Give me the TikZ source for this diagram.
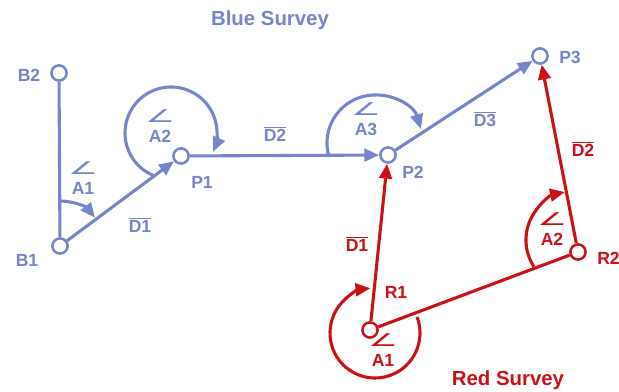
\documentclass[tikz,border=0pt]{standalone}
\usepackage{fontspec}
\setmainfont{Liberation Sans}
\newfontfamily\symfont{DejaVu Sans}
\usetikzlibrary{arrows.meta}
\definecolor{survblue}{RGB}{119,133,204}
\definecolor{survred}{RGB}{204,16,24}
\newcommand{\angl}[1]{\scalebox{1.9}[1.0]{\symfont\mdseries ∠}\\[1pt]#1}
\newcommand{\dist}[1]{$\overline{\mbox{#1}}$}

\begin{document}
\begin{tikzpicture}[x=0.025cm, y=0.025cm,
  stn/.style={circle, draw, fill=white, line width=1.8pt, minimum size=0.38cm, inner sep=0pt},
  leg/.style={line width=2.2pt},
  arr/.style={leg, -{Triangle[length=10.5pt, width=9pt]}},
  lbl/.style={font=\bfseries\fontsize{12.5}{13.5}\selectfont, inner sep=0pt, align=center},
  ttl/.style={font=\bfseries\fontsize{14.5}{16}\selectfont, inner sep=0pt}
]
\useasboundingbox (0,0) rectangle (619,392);

\node[stn, draw=survblue] (B2) at (59,319) {};
\node[stn, draw=survblue] (B1) at (60,146) {};
\node[stn, draw=survblue] (P1) at (181,236) {};
\node[stn, draw=survblue] (P2) at (388,237) {};
\node[stn, draw=survblue] (P3) at (540,336) {};
\node[stn, draw=survred] (R1) at (370,62) {};
\node[stn, draw=survred] (R2) at (578,140) {};

\coordinate (a2) at (171,259);
\coordinate (a3) at (375,249);
\coordinate (ra1) at (375,59);
\coordinate (ra2) at (575,152);

\draw[leg, survblue] (B2) -- (B1);
\draw[arr, survblue] (B1) -- (P1);
\draw[arr, survblue] (P1) -- (P2);
\draw[arr, survblue] (P2) -- (P3);
\draw[leg, survred] (R1) -- (R2);
\draw[arr, survred] (R1) -- (P2);
\draw[arr, survred] (R2) -- (P3);

\draw[arr, survblue] ([shift={(90:1.125cm)}]B1.center) arc[start angle=90, end angle=39, radius=1.125cm];
\draw[arr, survblue] ([shift={(248:1.15cm)}]a2) arc[start angle=248, end angle=-24, radius=1.15cm];
\draw[arr, survblue] ([shift={(194:1.2cm)}]a3) arc[start angle=194, end angle=17, radius=1.2cm];
\draw[arr, survred] ([shift={(21:1.125cm)}]ra1) arc[start angle=21, end angle=-264, radius=1.125cm];
\draw[arr, survred] ([shift={(213:1.225cm)}]ra2) arc[start angle=213, end angle=102, radius=1.225cm];

\node[ttl, survblue] (blue) at (270,372) {Blue Survey};
\node[ttl, survred] (red) at (508,12) {Red Survey};

\node[lbl, survblue] (tB2) at (29,317) {B2};
\node[lbl, survblue] (tB1) at (27,132) {B1};
\node[lbl, survblue] (tP1) at (202,210) {P1};
\node[lbl, survblue] (tP2) at (413,220) {P2};
\node[lbl, survblue] (tP3) at (570,335) {P3};
\node[lbl, survred] (tR1) at (396,100) {R1};
\node[lbl, survred, anchor=west] (tR2) at (597,134) {R2};

\node[lbl, survblue] (bA1) at (83,214) {\angl{A1}};
\node[lbl, survblue] (bA2) at (160,266) {\angl{A2}};
\node[lbl, survblue] (bA3) at (366,273) {\angl{A3}};
\node[lbl, survred] (rA1) at (383,42) {\angl{A1}};
\node[lbl, survred] (rA2) at (552,163) {\angl{A2}};

\node[lbl, survblue] (bD1) at (140,167) {\dist{D1}};
\node[lbl, survblue] (bD2) at (275,258) {\dist{D2}};
\node[lbl, survblue] (bD3) at (485,273) {\dist{D3}};
\node[lbl, survred] (rD1) at (357,148) {\dist{D1}};
\node[lbl, survred] (rD2) at (583,243) {\dist{D2}};

\end{tikzpicture}
\end{document}
